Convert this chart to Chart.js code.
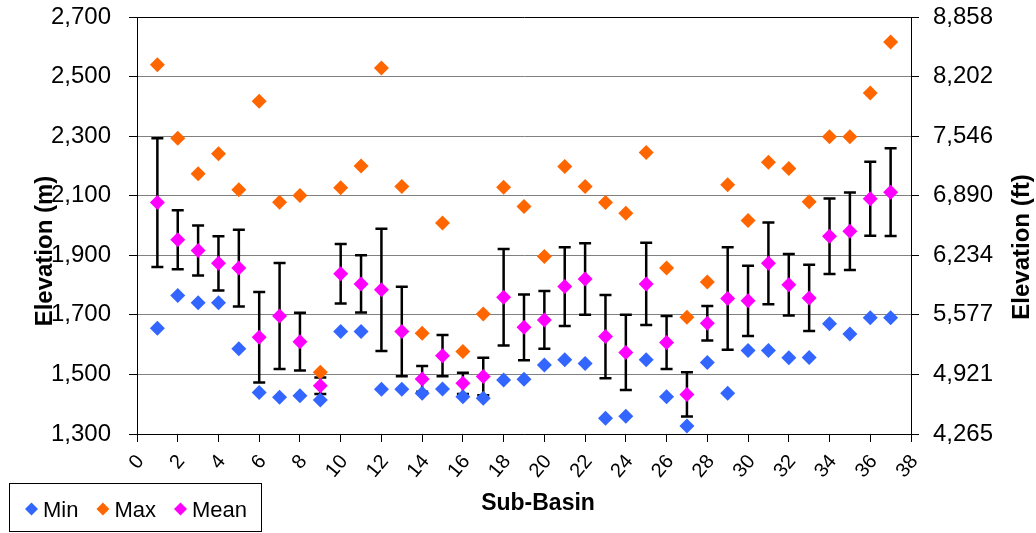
<!DOCTYPE html>
<html lang="en">
<head>
<meta charset="utf-8">
<title>Elevation by Sub-Basin</title>
<script src="https://cdn.jsdelivr.net/npm/chart.js@4.4.1/dist/chart.umd.min.js"></script>
<style>
  html, body { margin: 0; padding: 0; background: #fff; }
  #contenedor { width: 1036px; height: 533px; position: relative; }
</style>
</head>
<body>
<div id="contenedor"><canvas id="graficoElevacion"></canvas></div>
<script>
// Numero de sub-cuenca (eje x)
const subCuencas = [1, 2, 3, 4, 5, 6, 7, 8, 9, 10, 11, 12, 13, 14, 15, 16, 17, 18, 19,
    20, 21, 22, 23, 24, 25, 26, 27, 28, 29, 30, 31, 32, 33, 34, 35, 36, 37];

// Elevaciones en metros
const elevMin = [1655, 1765, 1741, 1741, 1586, 1439, 1423, 1428, 1414, 1644, 1644, 1450, 1450,
    1437, 1451, 1425, 1420, 1481, 1484, 1532, 1549, 1537, 1353, 1360, 1549, 1425, 1327, 1540,
    1437, 1580, 1580, 1556, 1557, 1670, 1636, 1690, 1690];
const elevMax = [2540, 2293, 2174, 2241, 2120, 2417, 2078, 2101, 1507, 2127, 2200, 2529, 2131,
    1638, 2008, 1577, 1703, 2128, 2064, 1896, 2198, 2131, 2077, 2041, 2245, 1857, 1692, 1810,
    2137, 2017, 2212, 2191, 2080, 2298, 2298, 2445, 2616];
const elevMedia = [2077, 1952, 1916, 1873, 1857, 1625, 1696, 1610, 1462, 1838, 1804, 1784, 1644,
    1485, 1563, 1470, 1493, 1759, 1658, 1683, 1795, 1820, 1627, 1574, 1804, 1607, 1433, 1672,
    1755, 1747, 1873, 1801, 1757, 1964, 1981, 2090, 2112];
// Desviacion estandar (barras de error sobre la media)
const elevDesv = [216, 99, 84, 91, 129, 152, 178, 97, 28, 100, 96, 205, 150, 43, 69, 36, 63,
    162, 110, 97, 132, 120, 140, 126, 138, 89, 74, 58, 172, 118, 137, 103, 111, 127, 130, 124, 147];

const M_A_PIES = 3.28084;
const FUENTE = '"Liberation Sans", Arial, sans-serif';
const GIRO_ETIQUETAS = 50;

function puntos(valores) {
    return valores.map((v, i) => ({ x: subCuencas[i], y: v }));
}

// Barras de error negras, se dibujan antes de los marcadores
const barrasError = {
    id: 'barrasError',
    beforeDatasetsDraw(chart) {
        const { ctx, scales: { x, y } } = chart;
        ctx.save();
        ctx.strokeStyle = '#000';
        ctx.lineWidth = 2.5;
        elevMedia.forEach((media, i) => {
            const px = x.getPixelForValue(subCuencas[i]);
            const arriba = y.getPixelForValue(media + elevDesv[i]);
            const abajo = y.getPixelForValue(media - elevDesv[i]);
            ctx.beginPath();
            ctx.moveTo(px, arriba);
            ctx.lineTo(px, abajo);
            ctx.moveTo(px - 6, arriba);
            ctx.lineTo(px + 6, arriba);
            ctx.moveTo(px - 6, abajo);
            ctx.lineTo(px + 6, abajo);
            ctx.stroke();
        });
        ctx.restore();
    }
};

function rombo(ctx, cx, cy, r, color) {
    ctx.fillStyle = color;
    ctx.beginPath();
    ctx.moveTo(cx - r, cy);
    ctx.lineTo(cx, cy - r);
    ctx.lineTo(cx + r, cy);
    ctx.lineTo(cx, cy + r);
    ctx.closePath();
    ctx.fill();
}

// Etiquetas giradas del eje x, sacadas de los ticks de la escala
const etiquetasX = {
    id: 'etiquetasX',
    afterDraw(chart) {
        const { ctx, scales: { x } } = chart;
        ctx.save();
        ctx.fillStyle = '#000';
        ctx.font = `20px ${FUENTE}`;
        ctx.textAlign = 'right';
        ctx.textBaseline = 'middle';
        x.ticks.forEach(t => {
            const px = x.getPixelForValue(t.value);
            ctx.save();
            ctx.translate(px + 3.5, x.top + 24);
            ctx.rotate(-GIRO_ETIQUETAS * Math.PI / 180);
            ctx.fillText(String(t.value), 0, 0);
            ctx.restore();
        });
        ctx.restore();
    }
};

// Titulos de ejes y leyenda con recuadro
const rotulos = {
    id: 'rotulos',
    afterDraw(chart) {
        const { ctx } = chart;
        ctx.save();
        ctx.fillStyle = '#000';
        ctx.font = `bold 24px ${FUENTE}`;
        ctx.textAlign = 'center';
        ctx.textBaseline = 'middle';

        ctx.save();
        ctx.translate(45, 251);
        ctx.rotate(-Math.PI / 2);
        ctx.fillText('Elevation (m)', 0, 0);
        ctx.restore();

        ctx.save();
        ctx.translate(1022, 247);
        ctx.rotate(-Math.PI / 2);
        ctx.fillText('Elevation (ft)', 0, 0);
        ctx.restore();

        ctx.font = `bold 23px ${FUENTE}`;
        ctx.textBaseline = 'alphabetic';
        ctx.fillText('Sub-Basin', 538, 510);

        // Leyenda
        ctx.strokeStyle = '#000';
        ctx.lineWidth = 1;
        ctx.strokeRect(9.5, 483.5, 252, 48);
        ctx.font = `22px ${FUENTE}`;
        ctx.textAlign = 'left';
        let xPos = 25;
        chart.data.datasets.forEach(ds => {
            rombo(ctx, xPos + 6.5, 509, 6.5, ds.backgroundColor);
            ctx.fillStyle = '#000';
            ctx.fillText(ds.label, xPos + 18, 517);
            xPos += 18 + ctx.measureText(ds.label).width + 18;
        });
        ctx.restore();
    }
};

document.addEventListener('DOMContentLoaded', function () {
    const ctx = document.getElementById('graficoElevacion').getContext('2d');

    const serie = (label, valores, color, orden) => ({
        label: label,
        data: puntos(valores),
        backgroundColor: color,
        borderColor: color,
        borderWidth: 0,
        pointStyle: 'rectRot',
        pointRadius: 7.5,
        showLine: false,
        order: orden
    });

    // el alto de las etiquetas no debe empujar el area del grafico
    const sinRelleno = s => { s.paddingTop = 0; s.paddingBottom = 0; };

    new Chart(ctx, {
        type: 'scatter',
        data: {
            datasets: [
                serie('Min', elevMin, '#3366FF', 3),
                serie('Max', elevMax, '#FF6600', 2),
                serie('Mean', elevMedia, '#FF00FF', 1)
            ]
        },
        options: {
            responsive: true,
            maintainAspectRatio: false,
            animation: false,
            layout: { padding: { top: 17, left: 0, right: 0, bottom: 0 } },
            plugins: {
                legend: { display: false },
                tooltip: { enabled: false }
            },
            scales: {
                x: {
                    type: 'linear',
                    min: 0,
                    max: 38,
                    ticks: {
                        stepSize: 2,
                        autoSkip: false,
                        display: false
                    },
                    grid: { drawOnChartArea: false, tickLength: 8, tickColor: '#000' },
                    border: { color: '#000', width: 1 },
                    afterFit: s => { s.height = 99; s.paddingLeft = 0; s.paddingRight = 0; }
                },
                y: {
                    position: 'left',
                    min: 1300,
                    max: 2700,
                    ticks: {
                        stepSize: 200,
                        padding: 18,
                        color: '#000',
                        font: { family: FUENTE, size: 24 },
                        callback: v => v.toLocaleString('en-US')
                    },
                    grid: {
                        color: c => (c.tick && c.tick.value === 2700 ? '#000' : '#808080'),
                        tickColor: '#000',
                        tickLength: 8
                    },
                    border: { color: '#000', width: 1 },
                    afterFit: s => { s.width = 137; sinRelleno(s); }
                },
                y2: {
                    position: 'right',
                    min: 1300,
                    max: 2700,
                    ticks: {
                        stepSize: 200,
                        padding: 14,
                        color: '#000',
                        font: { family: FUENTE, size: 24 },
                        callback: v => Math.round(v * M_A_PIES).toLocaleString('en-US')
                    },
                    grid: { drawOnChartArea: false, tickColor: '#000', tickLength: 8 },
                    border: { color: '#000', width: 1 },
                    afterFit: s => { s.width = 125; sinRelleno(s); }
                }
            }
        },
        plugins: [barrasError, etiquetasX, rotulos]
    });
});
</script>
</body>
</html>
